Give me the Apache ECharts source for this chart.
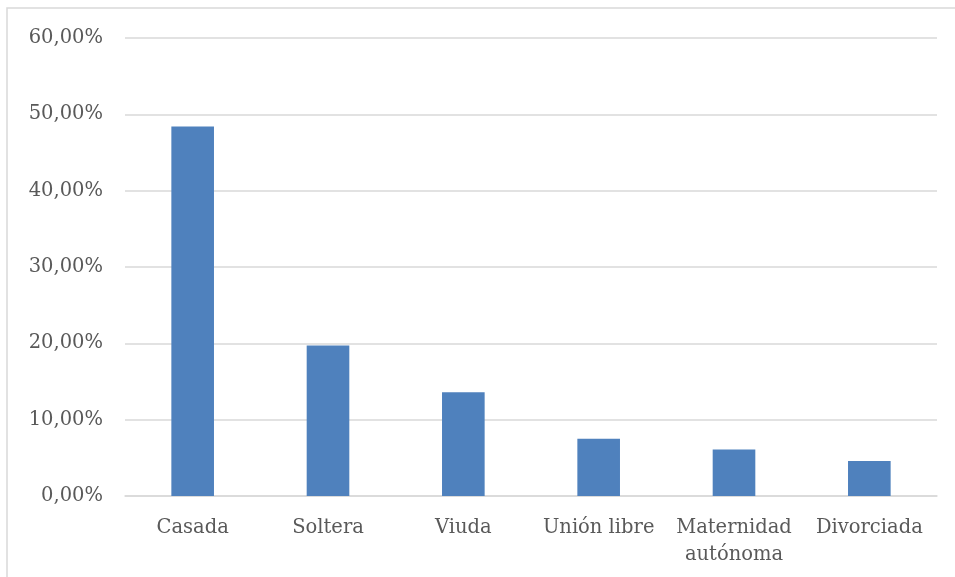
<!DOCTYPE html>
<html>
<head>
<meta charset="utf-8">
<script src="https://cdn.jsdelivr.net/npm/echarts@6/dist/echarts.min.js"></script>
<style>
  html, body { margin: 0; padding: 0; background: #fff; }
  #chart { width: 955px; height: 577px; }
</style>
</head>
<body>
<div id="chart"></div>
<script>
// estado civil
var categories = ['Casada', 'Soltera', 'Viuda', 'Unión libre', 'Maternidad\nautónoma', 'Divorciada'];
var values = [48.4, 19.7, 13.6, 7.5, 6.1, 4.6];
var yTicks = [0, 10, 20, 30, 40, 50, 60];

var chart = echarts.init(document.getElementById('chart'));
var labelFont = '"DejaVu Serif", "Liberation Serif", serif';

var option = {
  animation: false,
  backgroundColor: '#fff',
  graphic: [{
    type: 'rect',
    shape: { x: 7, y: 8, width: 980, height: 600 },
    style: { fill: 'none', stroke: '#d9d9d9', lineWidth: 1.5 },
    silent: true
  }],
  grid: { left: 125, right: 18, top: 38, bottom: 81 },
  xAxis: {
    type: 'category',
    data: categories,
    axisTick: { show: false },
    axisLine: { lineStyle: { color: '#d9d9d9', width: 1.5 } },
    axisLabel: {
      color: '#595959',
      fontFamily: labelFont,
      fontSize: 19.5,
      lineHeight: 27,
      margin: 18,
      interval: 0
    }
  },
  yAxis: {
    type: 'value',
    min: yTicks[0],
    max: yTicks[yTicks.length - 1],
    interval: 10,
    axisLine: { show: false },
    axisTick: { show: false },
    splitLine: { lineStyle: { color: '#d9d9d9', width: 1.5 } },
    axisLabel: {
      color: '#595959',
      fontFamily: labelFont,
      fontSize: 19.5,
      margin: 22,
      formatter: function (v) { return v.toFixed(2).replace('.', ',') + '%'; }
    }
  },
  series: [{
    type: 'bar',
    data: values,
    barWidth: '31.5%',
    itemStyle: { color: '#4f81bd' }
  }]
};
chart.setOption(option);
</script>
</body>
</html>
